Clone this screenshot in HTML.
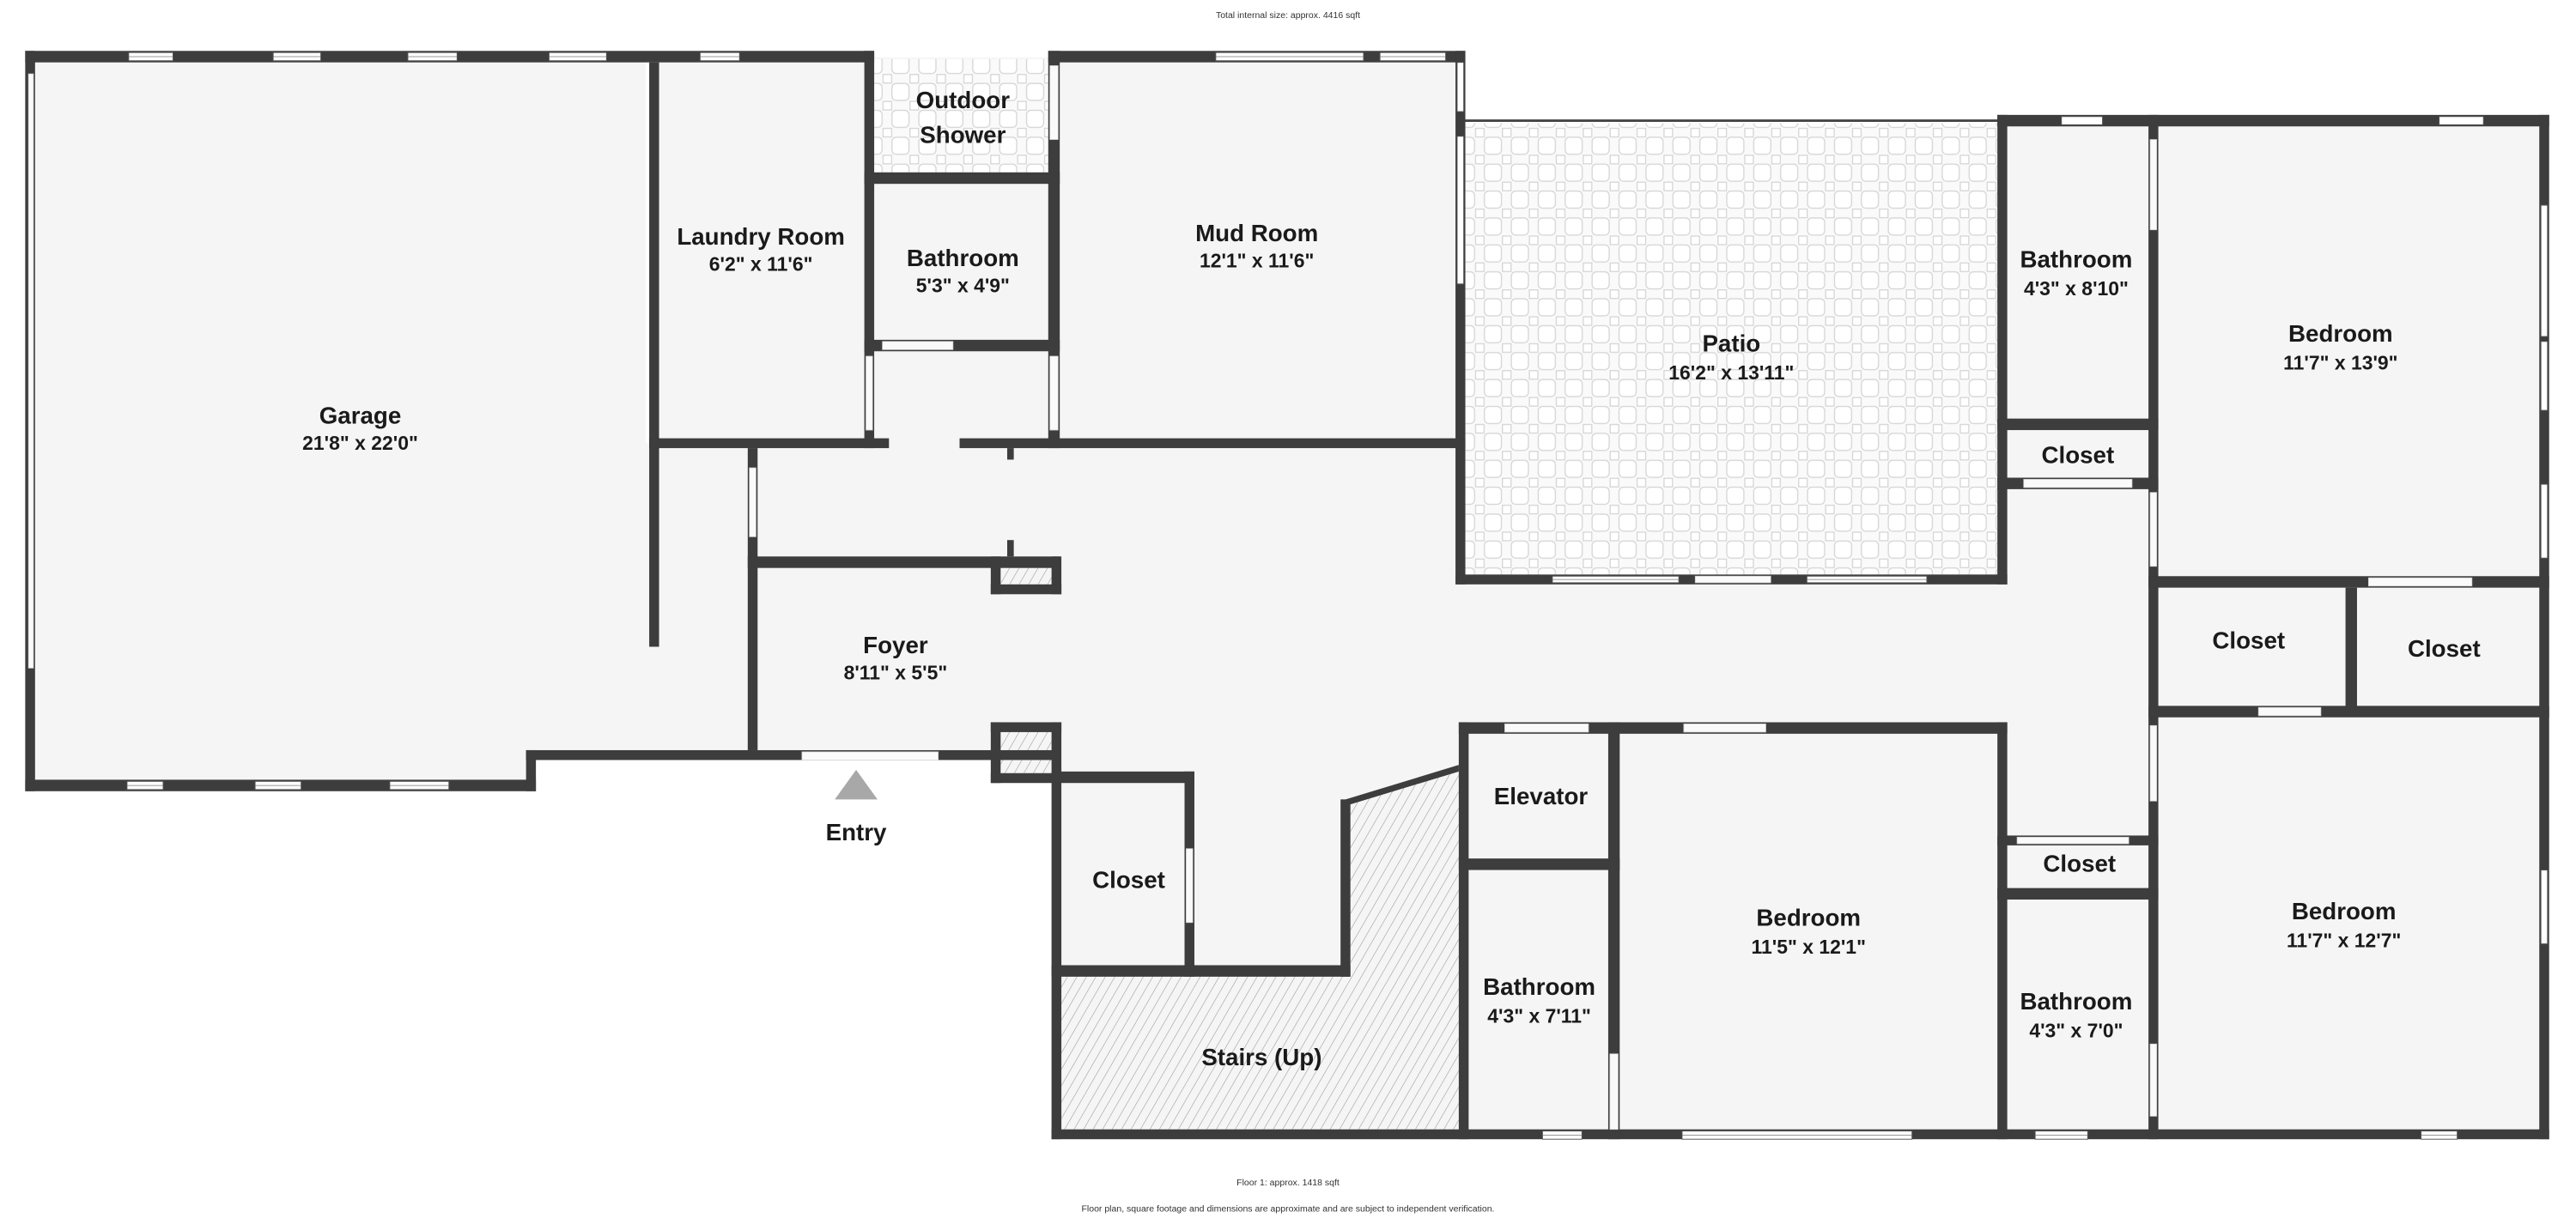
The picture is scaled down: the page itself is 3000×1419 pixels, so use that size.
<!DOCTYPE html>
<html><head><meta charset="utf-8"><style>
html,body{margin:0;padding:0;background:#fff;}
svg{display:block;}
text{font-family:"Liberation Sans",sans-serif;font-weight:bold;fill:#1a1a1a;text-anchor:middle;}
.t{font-size:14.5px;}
.d{font-size:12px;}
.s{font-size:5.5px;font-weight:normal;fill:#333;}
</style></head><body>
<svg width="3000" height="1419" viewBox="0 0 1568 742" xmlns="http://www.w3.org/2000/svg">
<defs>
<pattern id="tile" width="16.4" height="16.4" patternUnits="userSpaceOnUse">
<rect width="16.4" height="16.4" fill="#fafafa"/>
<rect x="1.6" y="1.6" width="10.4" height="10.4" rx="2.6" fill="#fff" stroke="#d6d6d6" stroke-width="0.7"/>
<rect x="12.6" y="12.6" width="5.2" height="5.2" fill="#fff" stroke="#d6d6d6" stroke-width="0.7"/>
<rect x="-3.8" y="12.6" width="5.2" height="5.2" fill="#fff" stroke="#d6d6d6" stroke-width="0.7"/>
<rect x="12.6" y="-3.8" width="5.2" height="5.2" fill="#fff" stroke="#d6d6d6" stroke-width="0.7"/>
<rect x="-3.8" y="-3.8" width="5.2" height="5.2" fill="#fff" stroke="#d6d6d6" stroke-width="0.7"/>
</pattern>
<pattern id="hatch" width="5" height="5" patternUnits="userSpaceOnUse" patternTransform="rotate(30)">
<rect width="5" height="5" fill="#f5f5f5"/>
<line x1="0" y1="0" x2="0" y2="5" stroke="#9a9a9a" stroke-width="0.6"/>
</pattern>
</defs>

<!-- floors -->
<g fill="#f5f5f5">
<rect x="18" y="35" width="375" height="425"/>
<rect x="18" y="455" width="304" height="23"/>
<polygon points="393,270 645,270 645,35 890,35 890,273 1310,273 1310,690 640,690 640,460 322,460 322,460 18,460 18,270"/>
<rect x="1216" y="73" width="334" height="620"/>
<rect x="396" y="35" width="250" height="240"/>
</g>
<rect x="532" y="36" width="108" height="70" fill="url(#tile)"/>
<rect x="892" y="75" width="324" height="276" fill="url(#tile)"/>
<line x1="889" y1="73.5" x2="1219" y2="73.5" stroke="#444" stroke-width="1.5"/>
<polygon points="646,595 822,595 822,487 888,468 888,688 646,688" fill="url(#hatch)"/>
<rect x="609" y="346" width="31" height="10" fill="url(#hatch)"/>
<rect x="609" y="446" width="31" height="25" fill="url(#hatch)"/>

<!-- walls -->
<g fill="#3d3d3d">
<rect x="15" y="31" width="517" height="7"/>
<rect x="15" y="31" width="6" height="451"/>
<rect x="15" y="475" width="311" height="7"/>
<rect x="320" y="457" width="6" height="25"/>
<rect x="320" y="457" width="325" height="6"/>
<rect x="395" y="38" width="6" height="356"/>
<rect x="395" y="267" width="146" height="6"/>
<rect x="526" y="31" width="6" height="242"/>
<rect x="526" y="105" width="119" height="7"/>
<rect x="526" y="207" width="119" height="7"/>
<rect x="638" y="31" width="7" height="242"/>
<rect x="638" y="31" width="254" height="7"/>
<rect x="886" y="31" width="6" height="325"/>
<rect x="584" y="267" width="308" height="6"/>
<rect x="613" y="273" width="4" height="7"/>
<rect x="455" y="273" width="6" height="184"/>
<rect x="455" y="339" width="190" height="7"/>
<rect x="613" y="329" width="4" height="10"/>
<rect x="603" y="339" width="6" height="23"/><rect x="640" y="339" width="6" height="23"/><rect x="603" y="356" width="43" height="6"/>
<rect x="603" y="440" width="43" height="6"/><rect x="603" y="440" width="6" height="37"/><rect x="603" y="471" width="43" height="6"/>
<rect x="640" y="440" width="6" height="254"/>
<rect x="640" y="470" width="87" height="7"/>
<rect x="721" y="470" width="6" height="125"/>
<rect x="640" y="588" width="182" height="7"/>
<rect x="816" y="487" width="6" height="108"/>
<rect x="640" y="688" width="912" height="6"/>
<rect x="888" y="440" width="6" height="254"/>
<rect x="888" y="440" width="334" height="7"/>
<rect x="888" y="523" width="98" height="7"/>
<rect x="979" y="440" width="7" height="254"/>
<rect x="1216" y="440" width="6" height="254"/>
<rect x="1216" y="509" width="98" height="6"/>
<rect x="1216" y="541" width="98" height="7"/>
<rect x="1308" y="70" width="6" height="624"/>
<rect x="1546" y="70" width="6" height="624"/>
<rect x="1216" y="70" width="336" height="7"/>
<rect x="886" y="350" width="336" height="6"/>
<rect x="1216" y="70" width="6" height="286"/>
<rect x="1216" y="255" width="98" height="7"/>
<rect x="1216" y="291" width="98" height="7"/>
<rect x="1308" y="351" width="244" height="7"/>
<rect x="1428" y="358" width="7" height="75"/>
<rect x="1308" y="430" width="244" height="7"/>
</g>
<polygon points="819,487 888,466 888,470 822,490" fill="#3d3d3d"/>

<!-- door openings / lights -->
<g fill="#fafafa" stroke="#cfcfcf" stroke-width="0.4">
<rect x="17" y="45" width="3" height="362"/>
<rect x="537" y="208" width="43" height="5"/>
<rect x="527" y="217" width="4" height="45"/>
<rect x="639" y="217" width="5" height="45"/>
<rect x="639" y="40" width="5" height="45"/>
<rect x="456" y="285" width="4" height="42"/>
<rect x="488" y="458" width="83" height="5"/>
<rect x="722" y="517" width="4" height="45"/>
<rect x="916" y="441" width="51" height="5"/>
<rect x="1025" y="441" width="50" height="5"/>
<rect x="980" y="642" width="5" height="46"/>
<rect x="1228" y="510" width="68" height="4"/>
<rect x="1309" y="300" width="4" height="45"/>
<rect x="1309" y="442" width="4" height="46"/>
<rect x="1309" y="636" width="4" height="44"/>
<rect x="1232" y="292" width="66" height="5"/>
<rect x="1442" y="352" width="63" height="5"/>
<rect x="1375" y="431" width="38" height="5"/>
<rect x="1309" y="85" width="4" height="55"/>
<rect x="1032" y="351" width="46" height="4"/>
</g>

<!-- windows -->
<g fill="#fff" stroke="#555" stroke-width="0.5">
<rect x="78" y="32" width="27" height="5"/><rect x="166" y="32" width="29" height="5"/><rect x="248" y="32" width="30" height="5"/><rect x="334" y="32" width="35" height="5"/><rect x="426" y="32" width="24" height="5"/>
<rect x="77" y="476" width="22" height="5"/><rect x="155" y="476" width="28" height="5"/><rect x="237" y="476" width="36" height="5"/>
<rect x="740" y="32" width="90" height="5"/><rect x="840" y="32" width="40" height="5"/>
<rect x="887" y="38" width="4" height="30"/><rect x="887" y="83" width="4" height="90"/>
<rect x="1255" y="71" width="25" height="5"/><rect x="1485" y="71" width="27" height="5"/>
<rect x="945" y="351" width="77" height="4"/><rect x="1100" y="351" width="73" height="4"/>
<rect x="939" y="689" width="24" height="5"/><rect x="1024" y="689" width="140" height="5"/><rect x="1239" y="689" width="32" height="5"/><rect x="1474" y="689" width="22" height="5"/>
<rect x="1547" y="125" width="4" height="80"/><rect x="1547" y="208" width="4" height="42"/><rect x="1547" y="295" width="4" height="45"/><rect x="1547" y="530" width="4" height="45"/>
</g>
<g stroke="#777" stroke-width="0.4">
<line x1="78" y1="34.5" x2="105" y2="34.5"/><line x1="166" y1="34.5" x2="195" y2="34.5"/><line x1="248" y1="34.5" x2="278" y2="34.5"/><line x1="334" y1="34.5" x2="369" y2="34.5"/><line x1="426" y1="34.5" x2="450" y2="34.5"/>
<line x1="77" y1="478.5" x2="99" y2="478.5"/><line x1="155" y1="478.5" x2="183" y2="478.5"/><line x1="237" y1="478.5" x2="273" y2="478.5"/>
<line x1="740" y1="34.5" x2="830" y2="34.5"/><line x1="840" y1="34.5" x2="880" y2="34.5"/>
<line x1="945" y1="353" x2="1022" y2="353"/><line x1="1100" y1="353" x2="1173" y2="353"/>
<line x1="939" y1="691.5" x2="963" y2="691.5"/><line x1="1024" y1="691.5" x2="1164" y2="691.5"/><line x1="1239" y1="691.5" x2="1271" y2="691.5"/><line x1="1474" y1="691.5" x2="1496" y2="691.5"/>
</g>

<polygon points="521,469 508,487 534,487" fill="#a8a8a8"/>

<!-- labels -->
<text class="t" x="219" y="258">Garage</text><text class="d" x="219" y="274">21'8" x 22'0"</text>
<text class="t" x="463" y="149">Laundry Room</text><text class="d" x="463" y="165">6'2" x 11'6"</text>
<text class="t" x="586" y="66">Outdoor</text><text class="t" x="586" y="87">Shower</text>
<text class="t" x="586" y="162">Bathroom</text><text class="d" x="586" y="178">5'3" x 4'9"</text>
<text class="t" x="765" y="147">Mud Room</text><text class="d" x="765" y="163">12'1" x 11'6"</text>
<text class="t" x="1054" y="214">Patio</text><text class="d" x="1054" y="231">16'2" x 13'11"</text>
<text class="t" x="1264" y="163">Bathroom</text><text class="d" x="1264" y="180">4'3" x 8'10"</text>
<text class="t" x="1425" y="208">Bedroom</text><text class="d" x="1425" y="225">11'7" x 13'9"</text>
<text class="t" x="1265" y="282">Closet</text>
<text class="t" x="545" y="398">Foyer</text><text class="d" x="545" y="414">8'11" x 5'5"</text>
<text class="t" x="1369" y="395">Closet</text><text class="t" x="1488" y="400">Closet</text>
<text class="t" x="938" y="490">Elevator</text>
<text class="t" x="521" y="512">Entry</text>
<text class="t" x="687" y="541">Closet</text>
<text class="t" x="1101" y="564">Bedroom</text><text class="d" x="1101" y="581">11'5" x 12'1"</text>
<text class="t" x="1427" y="560">Bedroom</text><text class="d" x="1427" y="577">11'7" x 12'7"</text>
<text class="t" x="1266" y="531">Closet</text>
<text class="t" x="937" y="606">Bathroom</text><text class="d" x="937" y="623">4'3" x 7'11"</text>
<text class="t" x="1264" y="615">Bathroom</text><text class="d" x="1264" y="632">4'3" x 7'0"</text>
<text class="t" x="768" y="649">Stairs (Up)</text>
<text class="s" x="784" y="11">Total internal size: approx. 4416 sqft</text>
<text class="s" x="784" y="722">Floor 1: approx. 1418 sqft</text>
<text class="s" x="784" y="738">Floor plan, square footage and dimensions are approximate and are subject to independent verification.</text>
</svg>
</body></html>
